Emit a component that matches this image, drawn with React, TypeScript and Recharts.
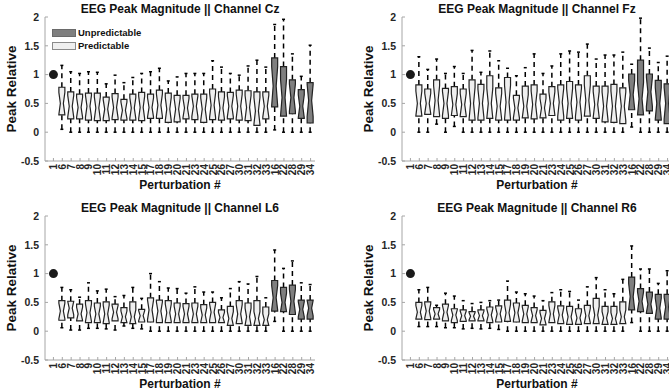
import React from 'react';
import { ComposedChart, Bar, Scatter, XAxis, YAxis } from 'recharts';

// ---------------- data ----------------
const categories = ['1', '6', '7', '8', '9', '10', '11', '12', '13', '14', '15', '17', '18', '19', '20', '21', '23', '24', '25', '26', '27', '30', '31', '32', '33', '16', '22', '28', '29', '34'];
const unpredictableCats = ['16', '22', '28', '29', '34'];
const referenceCat = '1';
const referenceValue = 1;
const yTicks = [-0.5, 0, 0.5, 1, 1.5, 2];

const czLow = [null, 0.05, 0, 0, 0, 0, 0, 0, 0, 0, 0, 0, 0, 0, 0, 0, 0, 0, 0, 0, 0, 0, 0, 0, 0, 0.04, 0, 0, 0, 0];
const czQ1 = [null, 0.30, 0.23, 0.23, 0.21, 0.20, 0.20, 0.22, 0.21, 0.21, 0.20, 0.24, 0.24, 0.17, 0.18, 0.23, 0.22, 0.17, 0.22, 0.21, 0.23, 0.21, 0.20, 0.12, 0.23, 0.44, 0.28, 0.32, 0.24, 0.16];
const czMed = [null, 0.50, 0.45, 0.43, 0.45, 0.42, 0.40, 0.43, 0.38, 0.42, 0.43, 0.43, 0.47, 0.40, 0.40, 0.42, 0.45, 0.40, 0.47, 0.42, 0.45, 0.45, 0.43, 0.37, 0.45, 0.80, 0.60, 0.60, 0.45, 0.55];
const czQ3 = [null, 0.78, 0.70, 0.66, 0.68, 0.68, 0.61, 0.67, 0.57, 0.66, 0.69, 0.66, 0.73, 0.68, 0.64, 0.64, 0.66, 0.66, 0.75, 0.70, 0.69, 0.73, 0.72, 0.70, 0.70, 1.29, 1.14, 0.91, 0.74, 0.86];
const czHigh = [null, 1.16, 1.05, 1.02, 1.05, 1.04, 0.84, 0.99, 0.86, 0.95, 1.02, 1.05, 1.11, 0.89, 0.96, 1.02, 1.02, 1.02, 1.24, 1.13, 1.02, 0.99, 1.15, 1.25, 1.13, 1.87, 1.96, 1.36, 0.97, 1.51];

const fzLow = [null, 0, 0, 0.14, 0, 0.10, 0, 0, 0, 0, 0, 0, 0, 0, 0, 0, 0, 0, 0, 0, 0, 0, 0, 0, 0, 0.09, 0, 0, 0, 0];
const fzQ1 = [null, 0.28, 0.31, 0.27, 0.24, 0.29, 0.27, 0.21, 0.21, 0.24, 0.21, 0.21, 0.21, 0.25, 0.23, 0.25, 0.29, 0.21, 0.24, 0.21, 0.28, 0.24, 0.18, 0.17, 0.15, 0.39, 0.30, 0.37, 0.21, 0.15];
const fzMed = [null, 0.50, 0.50, 0.55, 0.50, 0.48, 0.48, 0.50, 0.50, 0.50, 0.45, 0.52, 0.42, 0.45, 0.48, 0.42, 0.50, 0.52, 0.50, 0.52, 0.55, 0.48, 0.45, 0.45, 0.45, 0.65, 0.58, 0.70, 0.50, 0.50];
const fzQ3 = [null, 0.82, 0.75, 0.91, 0.76, 0.79, 0.75, 0.91, 0.83, 0.98, 0.77, 0.95, 0.64, 0.80, 0.82, 0.66, 0.79, 0.82, 0.88, 0.82, 0.98, 0.80, 0.80, 0.83, 0.77, 1.01, 1.25, 1.01, 0.90, 0.84];
const fzHigh = [null, 1.31, 1.09, 1.27, 1.02, 1.14, 1.02, 1.42, 1.04, 1.41, 1.24, 1.11, 0.98, 1.12, 1.36, 1.02, 1.15, 1.36, 1.41, 1.39, 1.53, 1.27, 1.34, 1.34, 1.39, 1.18, 1.98, 1.46, 1.21, 1.32];

const l6Low = [null, 0.06, 0.02, 0.02, 0.05, 0.05, 0.04, 0.02, 0.09, 0.05, 0.04, 0, 0, 0, 0, 0, 0, 0, 0, 0, 0, 0, 0, 0, 0, 0.17, 0, 0, 0, 0];
const l6Q1 = [null, 0.19, 0.23, 0.18, 0.15, 0.15, 0.13, 0.18, 0.15, 0.13, 0.16, 0.16, 0.15, 0.15, 0.15, 0.15, 0.15, 0.15, 0.15, 0.15, 0.10, 0.13, 0.10, 0.10, 0.10, 0.35, 0.34, 0.29, 0.21, 0.21];
const l6Med = [null, 0.35, 0.40, 0.30, 0.32, 0.30, 0.30, 0.33, 0.25, 0.25, 0.27, 0.37, 0.35, 0.32, 0.30, 0.30, 0.30, 0.28, 0.33, 0.24, 0.22, 0.30, 0.25, 0.22, 0.20, 0.58, 0.50, 0.52, 0.38, 0.40];
const l6Q3 = [null, 0.53, 0.52, 0.47, 0.53, 0.49, 0.51, 0.47, 0.41, 0.51, 0.38, 0.58, 0.54, 0.53, 0.49, 0.48, 0.49, 0.46, 0.50, 0.37, 0.43, 0.53, 0.49, 0.53, 0.42, 0.88, 0.76, 0.80, 0.54, 0.54];
const l6High = [null, 0.76, 0.72, 0.59, 0.84, 0.70, 0.73, 0.60, 0.62, 0.76, 0.57, 1.00, 0.86, 0.75, 0.74, 0.66, 0.77, 0.68, 0.68, 0.58, 0.74, 0.86, 0.82, 0.95, 0.58, 1.41, 1.09, 1.22, 0.84, 0.81];

const r6Low = [null, 0.08, 0.08, 0.08, 0.06, 0.06, 0.04, 0.05, 0.04, 0.05, 0.03, 0, 0, 0, 0, 0, 0, 0, 0, 0, 0, 0, 0, 0, 0, 0.15, 0, 0, 0, 0];
const r6Q1 = [null, 0.21, 0.20, 0.21, 0.18, 0.15, 0.17, 0.18, 0.18, 0.15, 0.16, 0.17, 0.16, 0.15, 0.15, 0.11, 0.15, 0.13, 0.12, 0.12, 0.13, 0.13, 0.12, 0.12, 0.13, 0.37, 0.34, 0.31, 0.21, 0.21];
const r6Med = [null, 0.33, 0.35, 0.30, 0.33, 0.28, 0.27, 0.26, 0.27, 0.28, 0.30, 0.32, 0.32, 0.30, 0.27, 0.22, 0.30, 0.28, 0.25, 0.23, 0.27, 0.28, 0.23, 0.22, 0.25, 0.60, 0.52, 0.47, 0.40, 0.42];
const r6Q3 = [null, 0.50, 0.51, 0.41, 0.47, 0.39, 0.37, 0.34, 0.37, 0.42, 0.44, 0.54, 0.49, 0.45, 0.41, 0.36, 0.51, 0.44, 0.43, 0.39, 0.45, 0.57, 0.43, 0.43, 0.51, 0.94, 0.74, 0.68, 0.64, 0.64];
const r6High = [null, 0.72, 0.76, 0.45, 0.66, 0.61, 0.53, 0.48, 0.50, 0.53, 0.54, 0.87, 0.68, 0.65, 0.61, 0.53, 0.67, 0.72, 0.69, 0.54, 0.77, 0.93, 0.72, 0.65, 0.90, 1.48, 1.08, 1.08, 0.83, 1.05];

// ---------------- styling ----------------
const FONT = '"Liberation Sans", Arial, Helvetica, sans-serif';
const FRAME = '#a6a6a6';
const TEXT = '#262626';
const DARK_FILL = '#7f7f7f';
const LIGHT_FILL = '#efefef';
const BOX_STROKE = '#222';
const PLOT_W = 270;
const PLOT_H = 144;
const ML = 45;
const MT = 17;
const MR = 5;
const XH = 40;

type Row = {
  cat: string;
  range: [number, number] | null;
  low: number | null;
  q1: number | null;
  med: number | null;
  q3: number | null;
  high: number | null;
  unpred: boolean;
  ref: number | null;
};

function buildRows(low: any[], q1: any[], med: any[], q3: any[], high: any[]): Row[] {
  return categories.map((cat, i) => ({
    cat,
    range: low[i] == null ? null : [low[i], high[i]],
    low: low[i],
    q1: q1[i],
    med: med[i],
    q3: q3[i],
    high: high[i],
    unpred: unpredictableCats.includes(cat),
    ref: cat === referenceCat ? referenceValue : null,
  }));
}

const BoxShape = (props: any) => {
  const { x, y, width, height, payload } = props;
  if (!payload || payload.range == null) return null;
  if (![x, y, width, height].every((v) => Number.isFinite(v))) return null;
  const top = Math.min(y, y + height);
  const bot = Math.max(y, y + height);
  const hi = payload.high;
  const lo = payload.low;
  const py = (v: number) => top + ((hi - v) / (hi - lo)) * (bot - top);
  const cx = x + width / 2;
  const hw = width / 2;
  const yq1 = py(payload.q1);
  const yq3 = py(payload.q3);
  const ym = py(payload.med);
  const n = Math.min(0.4 * (yq1 - yq3), ym - yq3, yq1 - ym);
  const pts = [
    [cx - hw, yq1],
    [cx - hw, ym + n],
    [cx - hw / 2, ym],
    [cx - hw, ym - n],
    [cx - hw, yq3],
    [cx + hw, yq3],
    [cx + hw, ym - n],
    [cx + hw / 2, ym],
    [cx + hw, ym + n],
    [cx + hw, yq1],
  ]
    .map((p) => p.join(','))
    .join(' ');
  const yHi = py(hi);
  const yLo = py(lo);
  return (
    <g>
      <line x1={cx} x2={cx} y1={yLo} y2={yq1} stroke="#000" strokeWidth={1.5} strokeDasharray="5 4" />
      <line x1={cx} x2={cx} y1={yq3} y2={yHi} stroke="#000" strokeWidth={1.5} strokeDasharray="5 4" />
      <line x1={cx - hw / 2} x2={cx + hw / 2} y1={yHi} y2={yHi} stroke="#000" strokeWidth={1.5} />
      <line x1={cx - hw / 2} x2={cx + hw / 2} y1={yLo} y2={yLo} stroke="#000" strokeWidth={1.5} />
      <polygon points={pts} fill={payload.unpred ? DARK_FILL : LIGHT_FILL} stroke={BOX_STROKE} strokeWidth={1.2} />
    </g>
  );
};

const RefDot = (props: any) => {
  const { cx, cy, payload } = props;
  if (!payload || payload.ref == null || !Number.isFinite(cx) || !Number.isFinite(cy)) return null;
  return <circle cx={cx} cy={cy} r={4.5} fill="#1a1a1a" />;
};

const XTick = (props: any) => {
  const { x, y, payload } = props;
  return (
    <text
      transform={`translate(${x},${y}) rotate(-90)`}
      textAnchor="end"
      dy="0.35em"
      fontSize={10}
      fontWeight={700}
      fill={TEXT}
      fontFamily={FONT}
    >
      {payload.value}
    </text>
  );
};

function Panel({ left, top, title, rows, legend }: { left: number; top: number; title: string; rows: Row[]; legend?: boolean }) {
  return (
    <div style={{ position: 'absolute', left: left - ML, top: top - MT, width: ML + PLOT_W + MR, height: MT + PLOT_H + XH + 10 }}>
      <div
        style={{
          position: 'absolute',
          left: ML - 40,
          width: PLOT_W + 80,
          top: MT - 15,
          textAlign: 'center',
          fontSize: 12,
          fontWeight: 700,
          lineHeight: '14px',
          color: '#111',
          fontFamily: FONT,
          whiteSpace: 'nowrap',
        }}
      >
        {title}
      </div>
      <ComposedChart
        width={ML + PLOT_W + MR}
        height={MT + PLOT_H + XH}
        data={rows}
        margin={{ top: MT, right: MR, bottom: 0, left: 0 }}
      >
        <XAxis
          dataKey="cat"
          type="category"
          interval={0}
          height={XH}
          padding={{ left: 4, right: 0 }}
          tick={<XTick />}
          tickSize={-3}
          tickMargin={6}
          tickLine={{ stroke: FRAME }}
          axisLine={{ stroke: FRAME }}
        />
        <XAxis
          xAxisId="t"
          dataKey="cat"
          type="category"
          orientation="top"
          interval={0}
          height={0}
          padding={{ left: 4, right: 0 }}
          tick={false}
          tickSize={-3}
          tickLine={{ stroke: FRAME }}
          axisLine={{ stroke: FRAME }}
        />
        <YAxis
          type="number"
          domain={[-0.5, 2]}
          ticks={yTicks}
          interval={0}
          width={ML}
          tickSize={-3}
          tickMargin={9}
          tickLine={{ stroke: FRAME }}
          axisLine={{ stroke: FRAME }}
          tick={{ fontSize: 10.5, fontWeight: 700, fill: TEXT, fontFamily: FONT }}
          tickFormatter={(v: number) => String(v)}
        />
        <YAxis
          yAxisId="r"
          orientation="right"
          type="number"
          domain={[-0.5, 2]}
          ticks={yTicks}
          interval={0}
          width={0}
          tick={false}
          tickSize={-3}
          tickLine={{ stroke: FRAME }}
          axisLine={{ stroke: FRAME }}
        />
        <Bar dataKey="range" barSize={6} shape={<BoxShape />} isAnimationActive={false} />
        <Scatter dataKey="ref" shape={<RefDot />} isAnimationActive={false} />
      </ComposedChart>
      <div
        style={{
          position: 'absolute',
          left: 12 - 100,
          top: MT + PLOT_H / 2 - 9,
          width: 200,
          height: 18,
          lineHeight: '18px',
          textAlign: 'center',
          transform: 'rotate(-90deg)',
          fontSize: 13.5,
          fontWeight: 700,
          color: '#111',
          fontFamily: FONT,
        }}
      >
        Peak Relative
      </div>
      <div
        style={{
          position: 'absolute',
          left: ML,
          width: PLOT_W,
          top: MT + PLOT_H + 17,
          textAlign: 'center',
          fontSize: 12,
          fontWeight: 700,
          lineHeight: '14px',
          color: '#111',
          fontFamily: FONT,
        }}
      >
        Perturbation #
      </div>
      {legend && (
        <div style={{ position: 'absolute', left: ML + 7, top: MT + 9, fontFamily: FONT, fontSize: 9.5, fontWeight: 700, color: '#111' }}>
          <div style={{ display: 'flex', alignItems: 'center', height: 13 }}>
            <div style={{ width: 24, height: 8, background: DARK_FILL, border: '1px solid #6a6a6a', boxSizing: 'border-box' }} />
            <span style={{ marginLeft: 2 }}>Unpredictable</span>
          </div>
          <div style={{ display: 'flex', alignItems: 'center', height: 13 }}>
            <div style={{ width: 24, height: 8, background: LIGHT_FILL, border: '1px solid #8a8a8a', boxSizing: 'border-box' }} />
            <span style={{ marginLeft: 2 }}>Predictable</span>
          </div>
        </div>
      )}
    </div>
  );
}

const czRows = buildRows(czLow, czQ1, czMed, czQ3, czHigh);
const fzRows = buildRows(fzLow, fzQ1, fzMed, fzQ3, fzHigh);
const l6Rows = buildRows(l6Low, l6Q1, l6Med, l6Q3, l6High);
const r6Rows = buildRows(r6Low, r6Q1, r6Med, r6Q3, r6High);

export default function App() {
  return (
    <div style={{ position: 'absolute', left: 0, top: 0, width: 669, height: 392, overflow: 'hidden', background: '#fff', fontFamily: FONT }}>
      <Panel left={45} top={17} title="EEG Peak Magnitude || Channel Cz" rows={czRows} legend />
      <Panel left={402} top={17} title="EEG Peak Magnitude || Channel Fz" rows={fzRows} />
      <Panel left={45} top={216} title="EEG Peak Magnitude || Channel L6" rows={l6Rows} />
      <Panel left={402} top={216} title="EEG Peak Magnitude || Channel R6" rows={r6Rows} />
    </div>
  );
}
